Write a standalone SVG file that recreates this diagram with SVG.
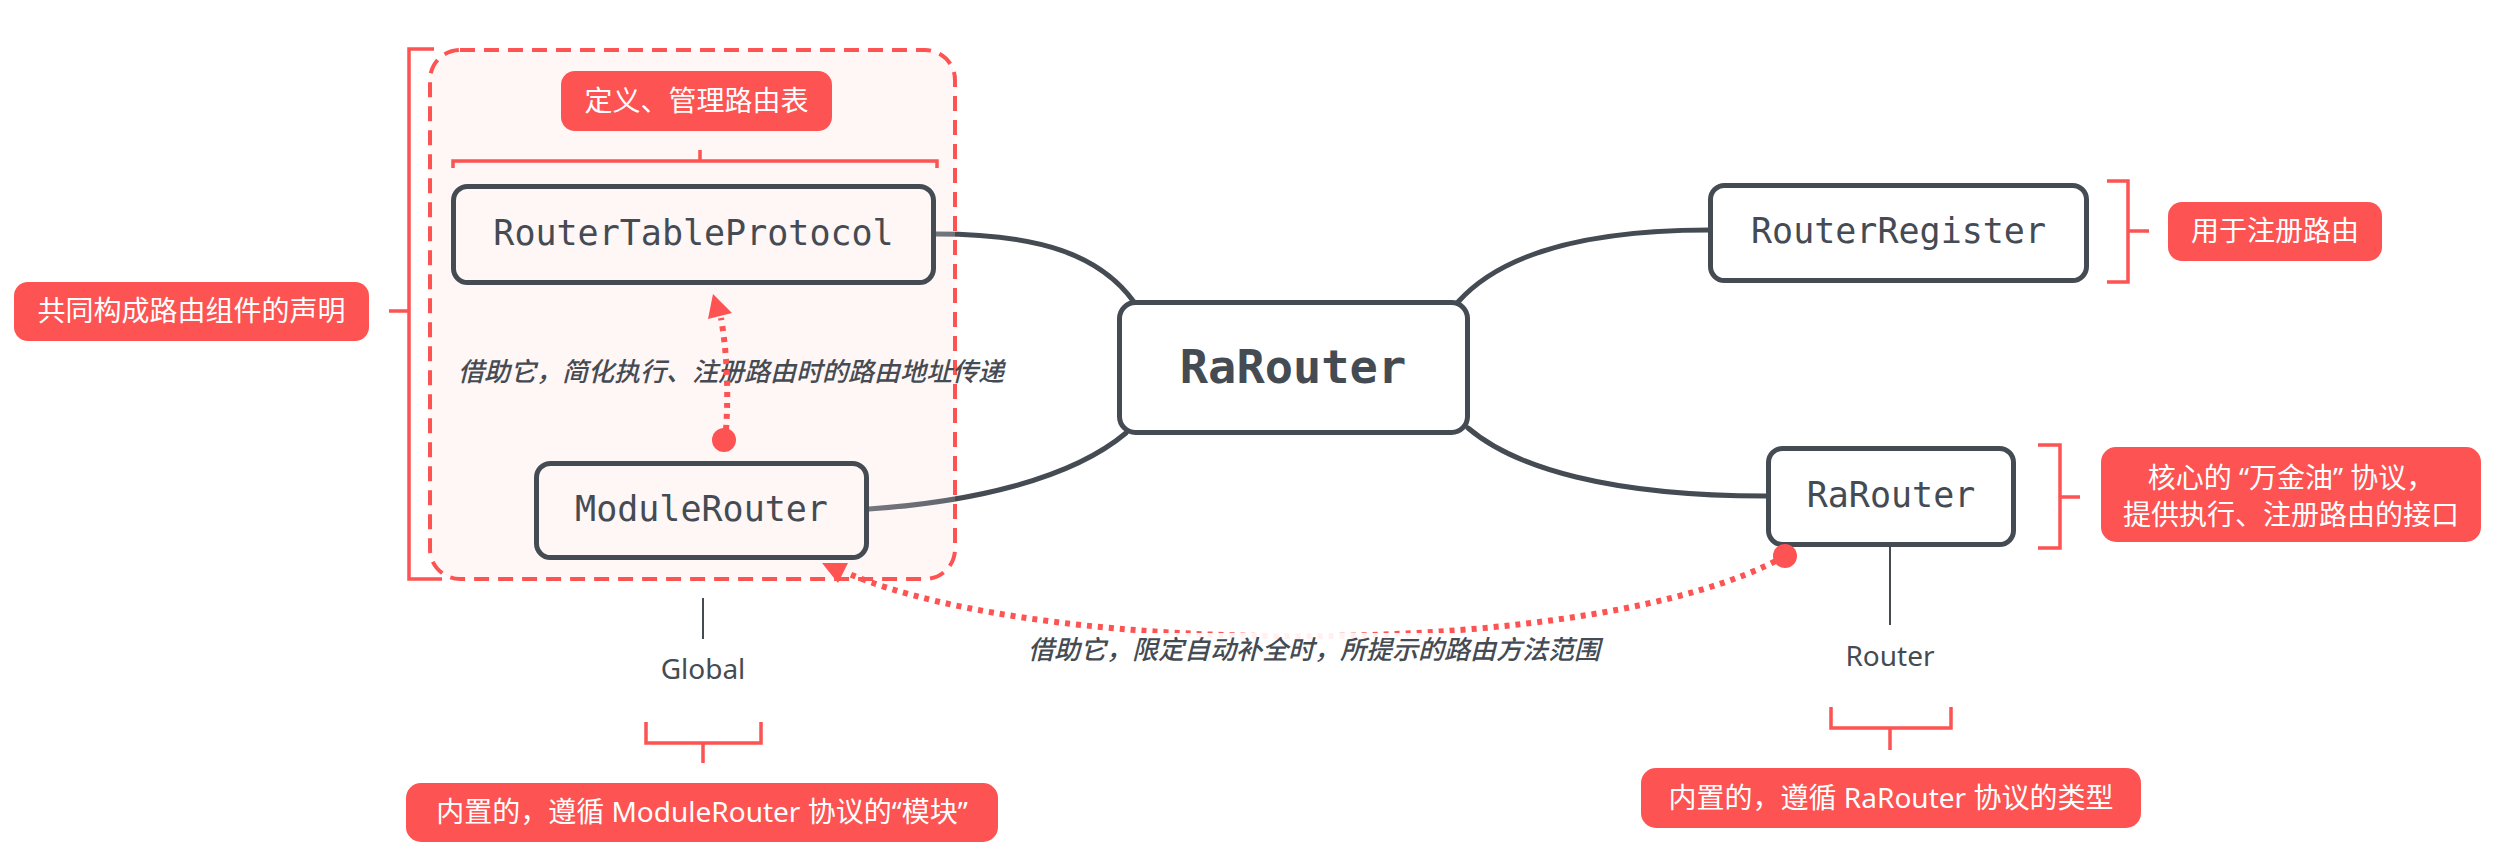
<svg xmlns="http://www.w3.org/2000/svg" width="2501" height="860" viewBox="0 0 2501 860">
<style>
.node{fill:#FFFFFF;stroke:#454B53;stroke-width:5}
.inner{fill:#FFF6F6;stroke:#454B53;stroke-width:5}
.mono{font-family:"DejaVu Sans Mono","Liberation Mono",monospace;font-size:35px;fill:#454B53;text-anchor:middle}
.big{font-family:"DejaVu Sans Mono","Liberation Mono",monospace;font-size:47px;font-weight:bold;fill:#454B53;text-anchor:middle}
.conn{fill:none;stroke:#454B53;stroke-width:5;stroke-linecap:round}
.tag{fill:#FD5352}
.tagtxt{font-family:"Noto Sans","Noto Sans CJK SC",sans-serif;font-size:28px;fill:#FFFFFF;text-anchor:middle}
.brk{fill:none;stroke:#FD5352;stroke-width:3.5}
.lbl{font-family:"Noto Sans CJK SC","Noto Sans",sans-serif;font-size:26px;font-style:italic;font-weight:500;fill:#454B53}
.plain{font-family:"Noto Sans","Lato",sans-serif;font-size:28px;fill:#454B53;text-anchor:middle}
.thin{stroke:#454B53;stroke-width:2}
.dot{fill:none;stroke:#FD5352;stroke-width:6;stroke-dasharray:5 6}
</style>
<defs>
<linearGradient id="gRTP" gradientUnits="userSpaceOnUse" x1="936" y1="0" x2="1000" y2="0">
<stop offset="0" stop-color="#74777D"/><stop offset="0.3" stop-color="#6E7278"/><stop offset="0.3" stop-color="#454B53"/><stop offset="1" stop-color="#454B53"/>
</linearGradient>
<linearGradient id="gMR" gradientUnits="userSpaceOnUse" x1="869" y1="0" x2="1000" y2="0">
<stop offset="0" stop-color="#74777D"/><stop offset="0.66" stop-color="#62666C"/><stop offset="0.66" stop-color="#454B53"/><stop offset="1" stop-color="#454B53"/>
</linearGradient>
</defs>
<rect width="2501" height="860" fill="#FFFFFF"/>

<g id="group-box">
<rect x="430" y="50" width="525" height="529" rx="30" fill="#FFF6F6" stroke="#FD5352" stroke-width="4" stroke-dasharray="15 9"/>
</g>

<g id="connectors">
<path class="conn" style="stroke:url(#gRTP)" d="M936,234 C1040,234 1100,255 1134,302"/>
<path class="conn" d="M1458,302 C1500,255 1580,230 1709,230"/>
<path class="conn" style="stroke:url(#gMR)" d="M869,509 C970,502 1070,480 1126,433"/>
<path class="conn" d="M1468,428 C1515,468 1610,496 1766,496"/>
<line class="thin" x1="703" y1="598" x2="703" y2="639"/>
<line class="thin" x1="1890" y1="547" x2="1890" y2="625"/>
</g>

<g id="label-decl">
<path class="brk" d="M434,49 H409 V579 H442 M409,311 H389"/>
<rect class="tag" x="14" y="282" width="355" height="59" rx="14"/>
<text class="tagtxt" x="191.5" y="321">共同构成路由组件的声明</text>
</g>

<g id="label-table">
<rect class="tag" x="561" y="71" width="271" height="60" rx="14"/>
<text class="tagtxt" x="696.5" y="111">定义、管理路由表</text>
<path class="brk" d="M453,168 V161 H937 V168 M700,161 V150"/>
</g>

<g id="node-rtp">
<rect class="inner" x="453.5" y="186.5" width="480" height="96" rx="14"/>
<text class="mono" x="693.5" y="245">RouterTableProtocol</text>
</g>

<g id="label-hint1">
<rect x="452" y="352" width="500" height="38" fill="#FFF6F6"/>
<text class="lbl" x="458" y="381">借助它，简化执行、注册路由时的路由地址传递</text>
</g>

<g id="arrow-hint1">
<path class="dot" d="M726,430 Q730,370 721,318"/>
<circle cx="724" cy="440" r="12" fill="#FD5352"/>
<polygon points="708,319 732,313 713,294" fill="#FD5352"/>
</g>

<g id="node-mr">
<rect class="inner" x="536.5" y="463.5" width="330" height="94" rx="14"/>
<text class="mono" x="701.5" y="521">ModuleRouter</text>
</g>

<g id="node-center">
<rect class="node" x="1119.5" y="302.5" width="348" height="130" rx="16"/>
<text class="big" x="1293" y="383">RaRouter</text>
</g>

<g id="node-rr">
<rect class="node" x="1710.5" y="185.5" width="376" height="95" rx="14"/>
<text class="mono" x="1898.5" y="243">RouterRegister</text>
</g>

<g id="label-register">
<path class="brk" d="M2107,181 H2128 V282 H2107 M2128,231 H2149"/>
<rect class="tag" x="2168" y="202" width="214" height="59" rx="14"/>
<text class="tagtxt" x="2275" y="241">用于注册路由</text>
</g>

<g id="node-rarouter">
<rect class="node" x="1768.5" y="448.5" width="245" height="96" rx="14"/>
<text class="mono" x="1891" y="507">RaRouter</text>
</g>

<g id="label-core">
<path class="brk" d="M2038,445 H2060 V548 H2038 M2060,497 H2080"/>
<rect class="tag" x="2101" y="447" width="380" height="95" rx="15"/>
<text class="tagtxt" x="2291" y="488">核心的 “万金油” 协议，</text>
<text class="tagtxt" x="2291" y="525">提供执行、注册路由的接口</text>
</g>

<g id="arrow-hint2">
<path class="dot" d="M1785,556 C1600,660 1050,660 847,573"/>
<circle cx="1785" cy="556" r="12" fill="#FD5352"/>
<polygon points="822,563 848,563 838,583" fill="#FD5352"/>
</g>

<g id="label-hint2">
<rect x="1022" y="633" width="584" height="38" fill="#FFFFFF" fill-opacity="0.92"/>
<text class="lbl" x="1028" y="659">借助它，限定自动补全时，所提示的路由方法范围</text>
</g>

<g id="label-global">
<text class="plain" x="703" y="679">Global</text>
<path class="brk" d="M646,722 V743 H761 V722 M703,743 V763"/>
<rect class="tag" x="406" y="783" width="592" height="59" rx="15"/>
<text class="tagtxt" x="702" y="822">内置的，遵循 ModuleRouter 协议的“模块”</text>
</g>

<g id="label-router">
<text class="plain" x="1890" y="666">Router</text>
<path class="brk" d="M1831,707 V728 H1951 V707 M1890,728 V750"/>
<rect class="tag" x="1641" y="768" width="500" height="60" rx="15"/>
<text class="tagtxt" x="1891" y="808">内置的，遵循 RaRouter 协议的类型</text>
</g>
</svg>
